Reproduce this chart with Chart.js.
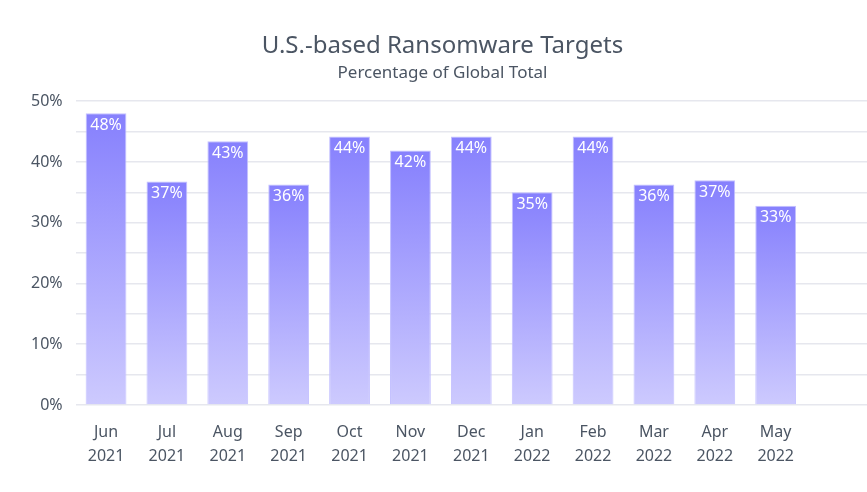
<!DOCTYPE html>
<html>
<head>
<meta charset="utf-8">
<script src="https://cdn.jsdelivr.net/npm/chart.js@4/dist/chart.umd.min.js"></script>
<style>
  html, body { margin: 0; padding: 0; background: #ffffff; }
  #wrap { width: 867px; height: 492px; }
</style>
</head>
<body>
<div id="wrap"><canvas id="chart"></canvas></div>
<script>
// chart data
const months = [['Jun', '2021'], ['Jul', '2021'], ['Aug', '2021'], ['Sep', '2021'], ['Oct', '2021'], ['Nov', '2021'],
  ['Dec', '2021'], ['Jan', '2022'], ['Feb', '2022'], ['Mar', '2022'], ['Apr', '2022'], ['May', '2022'], '']
const usShare = [48, 36.8, 43.4, 36.3, 44.2, 41.9, 44.2, 35, 44.2, 36.3, 37, 32.8, null]
const shareLabels = ['48%', '37%', '43%', '36%', '44%', '42%', '44%', '35%', '44%', '36%', '37%', '33%', '']

const fontFamily = "'Noto Sans', 'Open Sans', sans-serif"
const textColor = '#4b5563'

// each bar gets its own vertical gradient, dark at the top, pale at the base
function barGradient(context) {
  let chart = context.chart
  let value = context.raw
  if (!chart.chartArea || value === null || value === undefined) return '#8a84fd'
  let yScale = chart.scales.y
  let top = yScale.getPixelForValue(value)
  let base = yScale.getPixelForValue(0)
  let g = chart.ctx.createLinearGradient(0, top, 0, base)
  g.addColorStop(0, '#8680fd')
  g.addColorStop(1, '#cdcafe')
  return g
}

// white percentage labels inside the top of each bar
const barLabels = {
  id: 'barLabels',
  afterDatasetsDraw(chart) {
    let ctx = chart.ctx
    let meta = chart.getDatasetMeta(0)
    ctx.save()
    ctx.font = '16px ' + fontFamily
    ctx.fillStyle = '#ffffff'
    ctx.textAlign = 'center'
    ctx.textBaseline = 'top'
    meta.data.forEach((bar, i) => {
      if (!shareLabels[i]) return
      ctx.fillText(shareLabels[i], bar.x, bar.y + 4)
    })
    ctx.restore()
  }
}

let ctx = document.getElementById('chart').getContext('2d')
new Chart(ctx, {
  type: 'bar',
  data: {
    labels: months,
    datasets: [{
      data: usShare,
      backgroundColor: barGradient,
      borderColor: '#c4c1ff',
      borderWidth: 1,
      barPercentage: 0.67,
      categoryPercentage: 1
    }]
  },
  options: {
    responsive: true,
    maintainAspectRatio: false,
    animation: false,
    layout: { padding: { top: 32, left: 18, right: 0, bottom: 17 } },
    plugins: {
      legend: { display: false },
      tooltip: { enabled: false },
      title: {
        display: true,
        text: 'U.S.-based Ransomware Targets',
        color: textColor,
        font: { family: fontFamily, size: 24, weight: 'normal' },
        padding: { top: 0, bottom: 2 }
      },
      subtitle: {
        display: true,
        text: 'Percentage of Global Total',
        color: textColor,
        font: { family: fontFamily, size: 17, weight: 'normal' },
        padding: { top: 0, bottom: 18 }
      }
    },
    scales: {
      x: {
        grid: { display: false },
        border: { display: false },
        ticks: {
          color: textColor,
          font: { family: fontFamily, size: 16, lineHeight: 1.5 },
          padding: 7,
          maxRotation: 0
        }
      },
      y: {
        min: 0,
        max: 50,
        grid: { color: '#e6e7ee', lineWidth: 1.5, drawTicks: false },
        border: { display: false },
        ticks: {
          stepSize: 5,
          color: textColor,
          padding: 13,
          font: { family: fontFamily, size: 16 },
          callback: v => (v % 10 === 0 ? v + '%' : '')
        }
      }
    }
  },
  plugins: [barLabels]
})
</script>
</body>
</html>
